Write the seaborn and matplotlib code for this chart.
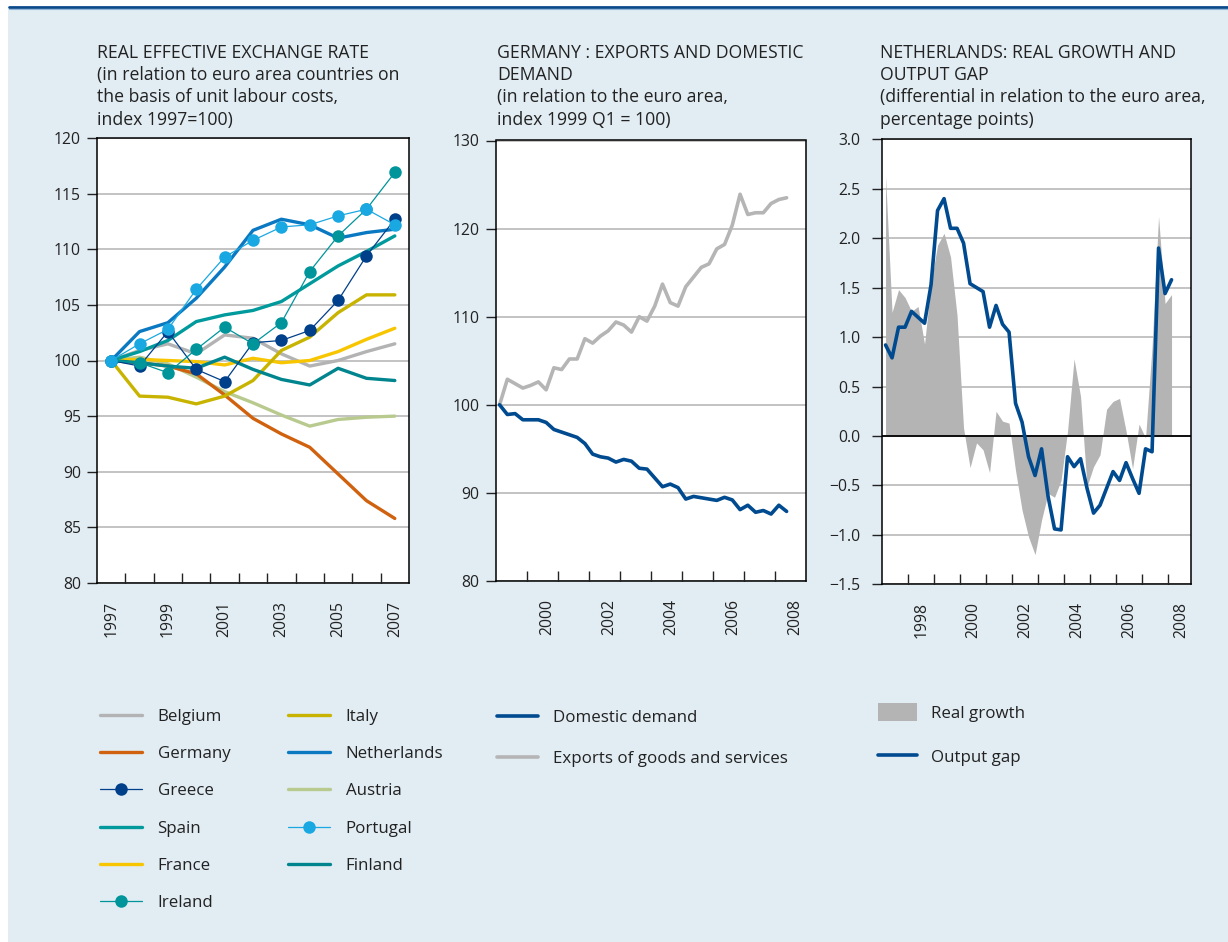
import numpy as np
import pandas as pd
import seaborn as sns
import matplotlib
matplotlib.use("Agg")
import matplotlib.pyplot as plt
from matplotlib.patches import Rectangle
from matplotlib.lines import Line2D
from matplotlib.ticker import FuncFormatter

# ---------------- data ----------------
years = list(range(1997, 2008))
belgium     = [100, 100.9, 101.5, 100.6, 102.3, 102.0, 100.6, 99.5, 100.0, 100.8, 101.5]
germany     = [100, 99.8, 99.5, 98.8, 96.9, 94.8, 93.4, 92.2, 89.8, 87.4, 85.8]
greece      = [100, 99.5, 102.6, 99.2, 98.1, 101.6, 101.8, 102.7, 105.4, 109.4, 112.7]
spain       = [100, 100.8, 101.8, 103.5, 104.1, 104.5, 105.3, 106.9, 108.5, 109.8, 111.2]
france      = [100, 100.1, 100.0, 99.9, 99.6, 100.2, 99.8, 100.0, 100.8, 101.9, 102.9]
ireland     = [100, 99.8, 98.9, 101.0, 103.0, 101.5, 103.4, 108.0, 111.2, 113.6, 116.9]
italy       = [100, 96.8, 96.7, 96.1, 96.8, 98.2, 100.9, 102.1, 104.3, 105.9, 105.9]
netherlands = [100, 102.6, 103.4, 105.6, 108.4, 111.7, 112.7, 112.2, 111.0, 111.5, 111.8]
austria     = [100, 100.3, 99.7, 98.5, 97.2, 96.2, 95.1, 94.1, 94.7, 94.9, 95.0]
portugal    = [100, 101.5, 102.8, 106.4, 109.3, 110.8, 112.0, 112.2, 113.0, 113.6, 112.2]
finland     = [100, 99.8, 99.5, 99.3, 100.3, 99.2, 98.3, 97.8, 99.3, 98.4, 98.2]

# Germany vs euro area, quarterly from 1999Q1
de_start = "1999Q1"
domestic_demand = [100.0, 98.9, 99.0, 98.3, 98.3, 98.3, 98.0, 97.2, 96.9, 96.6,
                   96.3, 95.6, 94.4, 94.1, 93.95, 93.5, 93.8, 93.6, 92.8, 92.7,
                   91.7, 90.7, 91.0, 90.6, 89.3, 89.6, 89.45, 89.3, 89.15, 89.5,
                   89.2, 88.1, 88.6, 87.8, 88.0, 87.6, 88.6, 87.9]
exports = [100.0, 102.9, 102.4, 101.9, 102.2, 102.6, 101.7, 104.2, 104.0, 105.2,
           105.2, 107.5, 107.0, 107.8, 108.4, 109.4, 109.05, 108.25, 110.0, 109.5,
           111.2, 113.7, 111.6, 111.2, 113.4, 114.5, 115.6, 116.0, 117.7, 118.2,
           120.4, 123.9, 121.6, 121.8, 121.8, 122.85, 123.3, 123.5]

# Netherlands vs euro area, quarterly from 1997Q1
nl_start = "1997Q1"
real_growth = [2.63, 1.25, 1.48, 1.40, 1.26, 1.31, 0.93, 1.55, 1.93, 2.05,
               1.81, 1.22, 0.08, -0.32, -0.07, -0.14, -0.37, 0.25, 0.15, 0.13,
               -0.35, -0.75, -1.02, -1.20, -0.85, -0.58, -0.62, -0.45, 0.05, 0.78,
               0.40, -0.51, -0.31, -0.19, 0.27, 0.35, 0.38, 0.05, -0.33, 0.12,
               -0.02, 0.90, 2.22, 1.34, 1.43]
output_gap = [0.92, 0.79, 1.10, 1.10, 1.26, 1.20, 1.14, 1.53, 2.28, 2.40,
              2.10, 2.10, 1.95, 1.54, 1.50, 1.46, 1.10, 1.32, 1.13, 1.05,
              0.33, 0.14, -0.21, -0.40, -0.13, -0.61, -0.94, -0.95, -0.21, -0.31,
              -0.23, -0.53, -0.78, -0.70, -0.53, -0.36, -0.45, -0.27, -0.43, -0.58,
              -0.13, -0.16, 1.90, 1.44, 1.58]

titles = [
    "REAL EFFECTIVE EXCHANGE RATE\n(in relation to euro area countries on\nthe basis of unit labour costs,\nindex 1997=100)",
    "GERMANY : EXPORTS AND DOMESTIC\nDEMAND\n(in relation to the euro area,\nindex 1999 Q1 = 100)",
    "NETHERLANDS: REAL GROWTH AND\nOUTPUT GAP\n(differential in relation to the euro area,\npercentage points)",
]

# ---------------- style ----------------
sns.set_theme(style="white")
plt.rcParams["font.family"] = ["Open Sans", "DejaVu Sans"]
plt.rcParams["text.color"] = "#222222"
plt.rcParams["xtick.color"] = "#222222"
plt.rcParams["ytick.color"] = "#222222"

W, H = 1228, 942
BG = "#e1ecf3"
fig = plt.figure(figsize=(W / 100, H / 100), dpi=100)
fig.patch.set_facecolor("white")
fig.add_artist(Rectangle((8 / W, 0), 1 - 8 / W, 1 - 9 / H, transform=fig.transFigure,
                         facecolor=BG, edgecolor="none", zorder=-10))
fig.add_artist(Line2D([9 / W, 1], [1 - 7 / H, 1 - 7 / H], transform=fig.transFigure,
                      color="#0b4a8a", lw=2.0))
fig.add_artist(Line2D([9 / W, 1], [1 - 9 / H, 1 - 9 / H], transform=fig.transFigure,
                      color="#8fb6d9", lw=0.8))


def add_ax(l, r, t, b):
    ax = fig.add_axes([l / W, 1 - b / H, (r - l) / W, (b - t) / H])
    ax.set_facecolor("white")
    for s in ax.spines.values():
        s.set_visible(True)
        s.set_color("black")
        s.set_linewidth(1.1)
    ax.grid(axis="y", color="#b9b9b9", lw=1.2)
    ax.grid(axis="x", visible=False)
    ax.set_axisbelow(True)
    ax.tick_params(axis="y", direction="out", length=7.5, width=1.0, pad=4, labelsize=11.3, left=True)
    ax.tick_params(axis="x", which="major", length=0, pad=13, labelsize=11.3, labelrotation=90, bottom=True)
    ax.tick_params(axis="x", which="minor", direction="in", length=7.5, width=1.0, bottom=True)
    return ax


# ---------------- panel 1 ----------------
ax1 = add_ax(97, 409, 138, 583)
series1 = {
    "Belgium": (belgium, "#b3b3b3", None),
    "Germany": (germany, "#d0620f", None),
    "Greece": (greece, "#003f8a", "o"),
    "Spain": (spain, "#009a9d", None),
    "France": (france, "#f8c600", None),
    "Ireland": (ireland, "#00959b", "o"),
    "Italy": (italy, "#c8b400", None),
    "Netherlands": (netherlands, "#0a79c2", None),
    "Austria": (austria, "#b9ca8f", None),
    "Portugal": (portugal, "#1aa8e2", "o"),
    "Finland": (finland, "#00858e", None),
}
draw_order = ["Austria", "Belgium", "Germany", "France", "Italy", "Finland", "Spain",
              "Netherlands", "Greece", "Ireland", "Portugal"]
handles1 = {}
for name in draw_order:
    vals, col, mk = series1[name]
    if mk:
        sns.lineplot(x=years, y=vals, ax=ax1, color=col, linewidth=0.9, marker="o",
                     markersize=9, markeredgewidth=0)
    else:
        sns.lineplot(x=years, y=vals, ax=ax1, color=col, linewidth=2.4)
    handles1[name] = ax1.lines[-1]
ax1.set_xlim(1996.5, 2007.5)
ax1.set_ylim(80, 120)
ax1.set_yticks(range(80, 121, 5))
ax1.set_xticks(range(1997, 2008, 2))
ax1.set_xticklabels([str(y) for y in range(1997, 2008, 2)])
ax1.set_xticks(np.arange(1997.5, 2007, 1), minor=True)
ax1.set_xlabel("")
ax1.set_ylabel("")

# ---------------- panel 2 ----------------
ax2 = add_ax(495.7, 806, 140.5, 581)
per2 = pd.period_range(de_start, periods=len(exports), freq="Q")
df2 = pd.DataFrame({"t": [p.year + (p.quarter - 0.5) / 4 for p in per2],
                    "Exports of goods and services": exports,
                    "Domestic demand": domestic_demand})
sns.lineplot(data=df2, x="t", y="Exports of goods and services", ax=ax2, color="#b5b5b5", linewidth=2.6)
h_exp = ax2.lines[-1]
sns.lineplot(data=df2, x="t", y="Domestic demand", ax=ax2, color="#004a8f", linewidth=2.6)
h_dom = ax2.lines[-1]
ax2.set_xlim(1999, 2009)
ax2.set_ylim(80, 130)
ax2.set_yticks(range(80, 131, 10))
lab2 = list(range(2000, 2009, 2))
ax2.set_xticks([y + 0.65 for y in lab2])
ax2.set_xticklabels([str(y) for y in lab2])
ax2.set_xticks(range(2000, 2009), minor=True)
ax2.set_xlabel("")
ax2.set_ylabel("")

# ---------------- panel 3 ----------------
ax3 = add_ax(882.3, 1191, 139.3, 584.3)
per3 = pd.period_range(nl_start, periods=len(output_gap), freq="Q")
t3 = [p.year + (p.quarter - 0.5) / 4 for p in per3]
df3 = pd.DataFrame({"t": t3, "Real growth": real_growth, "Output gap": output_gap})
h_rg = ax3.fill_between(df3["t"], 0, df3["Real growth"], color="#b4b4b4", lw=0, zorder=1.5)
ax3.axhline(0, color="black", lw=1.3, zorder=1.8)
sns.lineplot(data=df3, x="t", y="Output gap", ax=ax3, color="#004a8f", linewidth=2.6, zorder=3)
h_og = ax3.lines[-1]
ax3.set_xlim(1997, 1997 + (1191 - 882.3) / 26.0)
ax3.set_ylim(-1.5, 3.0)
ax3.set_yticks(np.arange(-1.5, 3.01, 0.5))
ax3.yaxis.set_major_formatter(FuncFormatter(lambda v, p: f"{v:.1f}".replace("-", "\u2212")))
ax3.tick_params(axis="y", pad=8)
lab3 = list(range(1998, 2009, 2))
ax3.set_xticks([y + 0.5 for y in lab3])
ax3.set_xticklabels([str(y) for y in lab3])
ax3.set_xticks(range(1998, 2009), minor=True)
ax3.set_xlabel("")
ax3.set_ylabel("")

# ---------------- titles ----------------
for x, txt in zip([97, 497, 880], titles):
    fig.text(x / W, 1 - 44 / H, txt, ha="left", va="top", fontsize=12.7, linespacing=1.3)

# ---------------- legends ----------------
LF = 12.2
order1 = ["Belgium", "Germany", "Greece", "Spain", "France", "Ireland",
          "Italy", "Netherlands", "Austria", "Portugal", "Finland"]
fig.legend([handles1[n] for n in order1], order1, loc="upper left",
           bbox_to_anchor=(100 / W, 1 - 709 / H), ncol=2, frameon=False, fontsize=LF,
           handlelength=2.5, handletextpad=0.9, columnspacing=3.4, labelspacing=1.25,
           borderpad=0, borderaxespad=0)
fig.legend([h_dom, h_exp], ["Domestic demand", "Exports of goods and services"], loc="upper left",
           bbox_to_anchor=(497 / W, 1 - 710 / H), frameon=False, fontsize=LF,
           handlelength=2.4, handletextpad=0.9, labelspacing=1.5, borderpad=0, borderaxespad=0)
fig.legend([h_rg, h_og], ["Real growth", "Output gap"], loc="upper left",
           bbox_to_anchor=(878 / W, 1 - 703 / H), frameon=False, fontsize=LF,
           handlelength=2.3, handleheight=1.3, handletextpad=0.8, labelspacing=1.5,
           borderpad=0, borderaxespad=0)

fig.savefig("out.png", dpi=100, facecolor=fig.get_facecolor())
